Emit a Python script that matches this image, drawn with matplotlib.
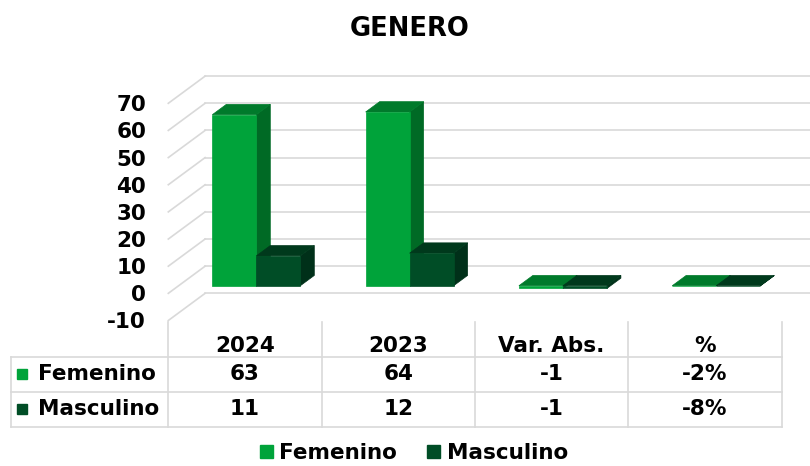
import matplotlib
matplotlib.use("Agg")
import matplotlib.pyplot as plt
from matplotlib.patches import Polygon, Patch

#-------------------------------------------------------------------------------
# data
categorias = ["2024", "2023", "Var. Abs.", "%"]
series     = ["Femenino", "Masculino"]
femenino   = [63, 64, -1, -0.02]
masculino  = [11, 12, -1, -0.08]
tabla_fem  = ["63", "64", "-1", "-2%"]
tabla_mas  = ["11", "12", "-1", "-8%"]
yticks     = list(range(-10, 80, 10))

# colours: front, top, side
C_FEM = ("#00A33A", "#007A2B", "#006A25")
C_MAS = ("#004D26", "#00391C", "#003019")
GRID  = "#D9D9D9"

# oblique depth offset of the walls (x in category units, y in value units)
DX, DY = 0.24, 10.0
D0, D1 = 0.28, 0.66          # bar depth inside the floor
BAR_X0, BAR_W = 0.22, 0.287  # bar position inside each category slot

plt.rcParams['font.family'] = ['DejaVu Sans']
FS = 15.5

#-------------------------------------------------------------------------------
def Box(ax, x0, w, v, cols):
    front, top, side = cols
    lo, hi = min(v, 0), max(v, 0)
    fx0, fx1 = x0 + D0*DX, x0 + w + D0*DX
    bx0, bx1 = x0 + D1*DX, x0 + w + D1*DX
    oy0, oy1 = D0*DY, D1*DY
    # right side
    ax.add_patch(Polygon([(fx1, lo+oy0), (fx1, hi+oy0), (bx1, hi+oy1), (bx1, lo+oy1)],
                         closed=True, fc=side, ec=side, lw=0.5, clip_on=False))
    # top
    ax.add_patch(Polygon([(fx0, hi+oy0), (fx1, hi+oy0), (bx1, hi+oy1), (bx0, hi+oy1)],
                         closed=True, fc=top, ec=top, lw=0.5, clip_on=False))
    # front
    ax.add_patch(Polygon([(fx0, lo+oy0), (fx1, lo+oy0), (fx1, hi+oy0), (fx0, hi+oy0)],
                         closed=True, fc=front, ec=front, lw=0.5, clip_on=False))
#-------------------------------------------------------------------------------

W, H = 810, 466
fig = plt.figure(figsize=(W/100, H/100), dpi=100)

left, right = 168.3, 781.5
ax = fig.add_axes([left/W, (H-320.5)/H, (right-left)/W, (320.5-103.3)/H])
ax.set_xlim(0, len(categorias))
ax.set_ylim(-10, 70)
for s in ax.spines.values():
    s.set_visible(False)
ax.set_xticks([])
ax.set_yticks(yticks)
ax.set_yticklabels([str(t) for t in yticks], fontsize=FS, fontweight='bold')
ax.tick_params(axis='y', length=0, pad=16)
ax.patch.set_alpha(0)

# back wall and side wall gridlines
n = len(categorias)
for t in yticks:
    ax.plot([DX, n + DX], [t + DY, t + DY], color=GRID, lw=1.2, clip_on=False, zorder=0)
    ax.plot([0, DX], [t, t + DY], color=GRID, lw=1.2, clip_on=False, zorder=0)

for i in range(n):
    Box(ax, i + BAR_X0, BAR_W, femenino[i], C_FEM)
    Box(ax, i + BAR_X0 + BAR_W, BAR_W, masculino[i], C_MAS)

# data table
tab = fig.add_axes([left/W, (H-426.7)/H, (right-left)/W, (426.7-322)/H])
tab.set_xlim(0, n)
tab.set_ylim(3, 0)
tab.axis('off')
xl = (11 - left) / (right - left) * n
for i in range(n + 1):
    tab.plot([i, i], [0, 3], color=GRID, lw=1.2, clip_on=False)
for r in (1, 2, 3):
    tab.plot([xl, n], [r, r], color=GRID, lw=1.2, clip_on=False)
tab.plot([xl, xl], [1, 3], color=GRID, lw=1.2, clip_on=False)

for i, c in enumerate(categorias):
    tab.text(i + 0.5, 0.68, c, ha='center', va='center', fontsize=FS, fontweight='bold')
for r, (nombre, vals, col) in enumerate(zip(series, [tabla_fem, tabla_mas], [C_FEM, C_MAS])):
    y = r + 1.5
    tab.plot([xl + 0.07], [y], marker='s', ms=6.8, color=col[0], clip_on=False)
    tab.text(xl + 0.175, y, nombre, ha='left', va='center', fontsize=FS, fontweight='bold')
    for i, v in enumerate(vals):
        tab.text(i + 0.5, y, v, ha='center', va='center', fontsize=FS, fontweight='bold')

fig.text(0.506, (H - 29)/H, "GENERO", ha='center', va='center', fontsize=18.5, fontweight='bold')

handles = [Patch(fc=C_FEM[0], ec=C_FEM[0]), Patch(fc=C_MAS[0], ec=C_MAS[0])]
fig.legend(handles, series, loc='center', bbox_to_anchor=(414/W, (H - 453)/H), ncol=2,
           frameon=False, handlelength=0.6, handleheight=0.6, handletextpad=0.3,
           columnspacing=1.4, borderpad=0.1, prop={'size': FS, 'weight': 'bold'})

fig.savefig("out.png", dpi=100)
